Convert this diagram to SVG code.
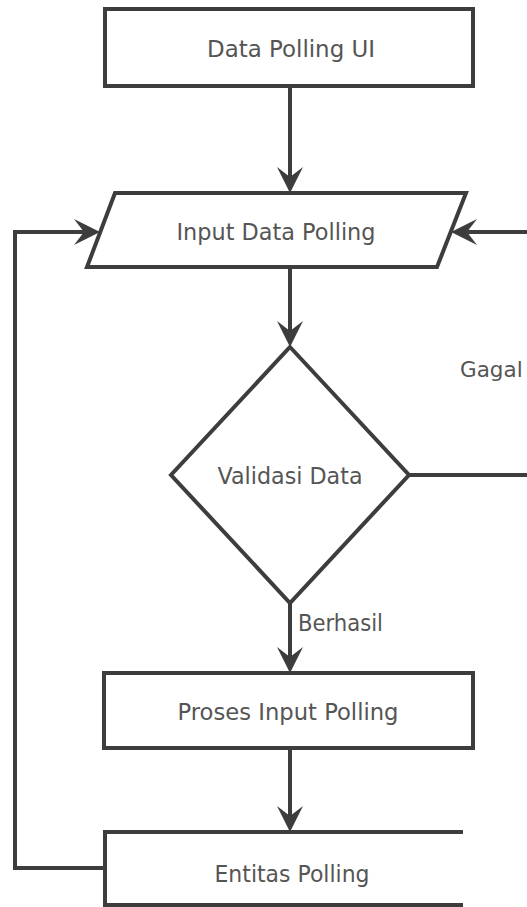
<svg xmlns="http://www.w3.org/2000/svg" width="527" height="907" viewBox="0 0 527 907">
  <style>
    .shape { fill: #ffffff; stroke: #3d3d3d; stroke-width: 4; }
    .open { fill: none; stroke: #3d3d3d; stroke-width: 4; }
    .conn { fill: none; stroke: #3d3d3d; stroke-width: 4; marker-end: url(#arrow); }
    .label { font-family: "DejaVu Sans", Verdana, sans-serif; font-size: 23px; fill: #555555; }
    .c { text-anchor: middle; }
  </style>
  <defs>
    <marker id="arrow" viewBox="0 0 26 26" refX="19" refY="13" markerWidth="26" markerHeight="26" markerUnits="userSpaceOnUse" orient="auto">
      <path d="M0,0 L26,13 L0,26 L10,13 Z" fill="#3d3d3d"/>
    </marker>
  </defs>
  <rect width="527" height="907" fill="#ffffff"/>

  <g id="connectors">
    <path class="conn" d="M290,86 V186"/>
    <path class="conn" d="M290,267 V340"/>
    <path class="conn" d="M290,603 V666"/>
    <path class="conn" d="M290,748 V825"/>
    <path class="conn" d="M409,475 H545 V232 H458"/>
    <path class="conn" d="M105,868 H15 V232 H93"/>
  </g>

  <g id="data-polling-ui">
    <rect class="shape" x="105" y="9" width="368" height="77"/>
    <text class="label c" x="291" y="57" textLength="168" lengthAdjust="spacingAndGlyphs">Data Polling UI</text>
  </g>

  <g id="input-data-polling">
    <polygon class="shape" points="115,193 466,193 437,267 87,267"/>
    <text class="label c" x="276" y="240" textLength="199" lengthAdjust="spacingAndGlyphs">Input Data Polling</text>
  </g>

  <g id="validasi-data">
    <polygon class="shape" points="290,347 409,475 290,603 171,475"/>
    <text class="label c" x="290" y="484" textLength="145" lengthAdjust="spacingAndGlyphs">Validasi Data</text>
  </g>

  <g id="label-gagal">
    <text class="label" x="460" y="377" style="font-size:21.5px">Gagal</text>
  </g>

  <g id="label-berhasil">
    <text class="label" x="298" y="631" textLength="85" lengthAdjust="spacingAndGlyphs">Berhasil</text>
  </g>

  <g id="proses-input-polling">
    <rect class="shape" x="104" y="673" width="369" height="75"/>
    <text class="label c" x="288" y="720" textLength="221" lengthAdjust="spacingAndGlyphs">Proses Input Polling</text>
  </g>

  <g id="entitas-polling">
    <rect x="105" y="832" width="358" height="73" fill="#ffffff"/>
    <path class="open" d="M463,832 H105 V905 H463"/>
    <text class="label c" x="292" y="882" textLength="155" lengthAdjust="spacingAndGlyphs">Entitas Polling</text>
  </g>
</svg>
